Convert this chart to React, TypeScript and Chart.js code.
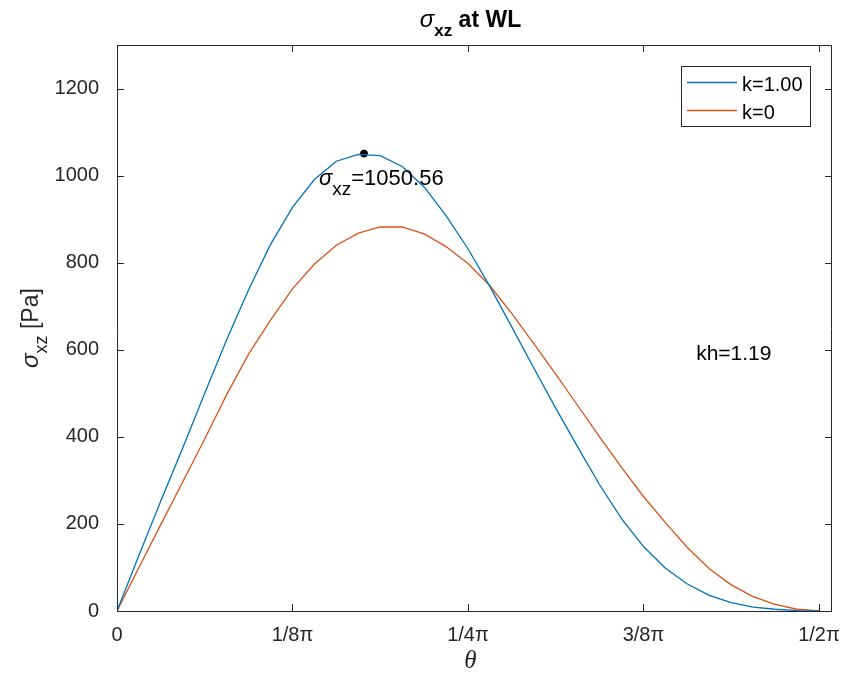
import React, { useEffect, useRef } from "react";
import { Chart, registerables } from "chart.js";

Chart.register(...registerables);

// ---- data ----
const theta = [
  0, 0.0491, 0.0982, 0.1473, 0.1963, 0.2454, 0.2945, 0.3436, 0.3927, 0.4418,
  0.4909, 0.54, 0.589, 0.6381, 0.6872, 0.7363, 0.7854, 0.8345, 0.8836, 0.9327,
  0.9817, 1.0308, 1.0799, 1.129, 1.1781, 1.2272, 1.2763, 1.3254, 1.3744, 1.4235,
  1.4726, 1.5217, 1.5708,
];
const sigmaK1 = [
  0, 128, 253, 375, 500, 623, 738, 842, 927, 991,
  1033, 1049, 1046, 1021, 974, 908, 832, 745, 652, 558,
  466, 377, 290, 212, 148, 98, 62, 36, 19, 9,
  4, 1, 0,
];
const sigmaK0 = [
  0, 100, 199, 297, 395, 497, 590, 668, 740, 797,
  840, 868, 882, 882, 866, 837, 798, 747, 683, 614,
  544, 472, 400, 330, 263, 203, 146, 97, 60, 33,
  15, 4, 0,
];
const seriesLabels = ["k=1.00", "k=0"];
const seriesColors = ["#0072BD", "#D95319"];
const peakTheta = 0.5527;
const peakValue = 1050.56;
const peakLabel = "=1050.56";
const khLabel = "kh=1.19";
const xTickValues = [0, 0.3927, 0.7854, 1.1781, 1.5708];
const xTickLabels = ["0", "1/8\u03C0", "1/4\u03C0", "3/8\u03C0", "1/2\u03C0"];
const yTickValues = [0, 200, 400, 600, 800, 1000, 1200];
const yTickLabels = ["0", "200", "400", "600", "800", "1000", "1200"];
const xMin = 0;
const xMax = 1.6;
const yMin = 0;
const yMax = 1300;

const SANS = '"Liberation Sans", Arial, Helvetica, sans-serif';
const AXIS = "#262626";

type Part = { t: string; font: string; dy?: number };

function richWidth(ctx: CanvasRenderingContext2D, parts: Part[]) {
  let w = 0;
  for (const p of parts) {
    ctx.font = p.font;
    w += ctx.measureText(p.t).width;
  }
  return w;
}

function drawRich(
  ctx: CanvasRenderingContext2D,
  parts: Part[],
  x: number,
  y: number,
  align: "left" | "center"
) {
  const w = richWidth(ctx, parts);
  let cx = align === "center" ? x - w / 2 : x;
  ctx.textAlign = "left";
  ctx.textBaseline = "alphabetic";
  for (const p of parts) {
    ctx.font = p.font;
    ctx.fillText(p.t, cx, y + (p.dy || 0));
    cx += ctx.measureText(p.t).width;
  }
}

const decorPlugin = {
  id: "decor",
  afterDraw(chart: any) {
    const { ctx, chartArea, scales } = chart;
    const xs = scales.x;
    const ys = scales.y;
    const { left, right, top, bottom } = chartArea;
    ctx.save();

    // frame + inward ticks on all sides
    ctx.strokeStyle = AXIS;
    ctx.lineWidth = 1;
    ctx.beginPath();
    ctx.rect(Math.round(left) + 0.5, Math.round(top) + 0.5, Math.round(right - left) - 1, Math.round(bottom - top));
    const tl = 7;
    for (const v of xTickValues) {
      const px = Math.round(xs.getPixelForValue(v)) + 0.5;
      ctx.moveTo(px, bottom);
      ctx.lineTo(px, bottom - tl);
      ctx.moveTo(px, top);
      ctx.lineTo(px, top + tl);
    }
    for (const v of yTickValues) {
      const py = Math.round(ys.getPixelForValue(v)) + 0.5;
      ctx.moveTo(left, py);
      ctx.lineTo(left + tl, py);
      ctx.moveTo(right, py);
      ctx.lineTo(right - tl, py);
    }
    ctx.stroke();

    ctx.fillStyle = "#000000";
    const cxPlot = (left + right) / 2;

    // title
    drawRich(
      ctx,
      [
        { t: "\u03C3", font: `italic 24px ${SANS}` },
        { t: "xz", font: `bold 17px ${SANS}`, dy: 9 },
        { t: " at WL", font: `bold 23px ${SANS}` },
      ],
      cxPlot - 4,
      27,
      "center"
    );

    // x axis title
    ctx.fillStyle = AXIS;
    ctx.font = `italic 25px "Liberation Serif", "DejaVu Serif", serif`;
    ctx.textAlign = "center";
    ctx.textBaseline = "alphabetic";
    ctx.fillText("\u03B8", cxPlot - 4, 668);

    // y axis title
    ctx.save();
    ctx.translate(38, (top + bottom) / 2);
    ctx.rotate(-Math.PI / 2);
    drawRich(
      ctx,
      [
        { t: "\u03C3", font: `italic 24px ${SANS}` },
        { t: "xz", font: `18px ${SANS}`, dy: 9 },
        { t: " [Pa]", font: `23px ${SANS}` },
      ],
      0,
      0,
      "center"
    );
    ctx.restore();

    // peak annotation
    ctx.fillStyle = "#000000";
    drawRich(
      ctx,
      [
        { t: "\u03C3", font: `italic 22px ${SANS}` },
        { t: "xz", font: `19px ${SANS}`, dy: 10 },
        { t: peakLabel, font: `22px ${SANS}` },
      ],
      xs.getPixelForValue(0.452),
      ys.getPixelForValue(1000) + 9,
      "left"
    );

    // kh annotation
    drawRich(
      ctx,
      [{ t: khLabel, font: `21px ${SANS}` }],
      xs.getPixelForValue(1.296),
      ys.getPixelForValue(600) + 10,
      "left"
    );

    // legend
    const lx = 681.5, ly = 66.5, lw = 129, lh = 60;
    ctx.fillStyle = "#ffffff";
    ctx.fillRect(lx, ly, lw, lh);
    ctx.strokeStyle = AXIS;
    ctx.lineWidth = 1;
    ctx.strokeRect(lx, ly, lw, lh);
    const rows = [82.5, 110.5];
    seriesLabels.forEach((lab, i) => {
      ctx.strokeStyle = seriesColors[i];
      ctx.lineWidth = 1.3;
      ctx.beginPath();
      ctx.moveTo(687, rows[i]);
      ctx.lineTo(737, rows[i]);
      ctx.stroke();
      ctx.fillStyle = "#000000";
      ctx.font = `20px ${SANS}`;
      ctx.textAlign = "left";
      ctx.textBaseline = "alphabetic";
      ctx.fillText(lab, 742, rows[i] + 8);
    });

    ctx.restore();
  },
};

export default function App() {
  const ref = useRef<HTMLCanvasElement | null>(null);

  useEffect(() => {
    if (!ref.current) return;
    const chart = new Chart(ref.current, {
      type: "line",
      data: {
        datasets: [
          {
            label: seriesLabels[0],
            data: theta.map((t, i) => ({ x: t, y: sigmaK1[i] })),
            borderColor: seriesColors[0],
            backgroundColor: seriesColors[0],
            borderWidth: 1.3,
            pointRadius: 0,
            tension: 0,
          },
          {
            label: seriesLabels[1],
            data: theta.map((t, i) => ({ x: t, y: sigmaK0[i] })),
            borderColor: seriesColors[1],
            backgroundColor: seriesColors[1],
            borderWidth: 1.3,
            pointRadius: 0,
            tension: 0,
          },
          {
            label: "peak",
            type: "scatter",
            data: [{ x: peakTheta, y: peakValue }],
            borderColor: "#000000",
            backgroundColor: "#000000",
            pointRadius: 3.5,
            showLine: false,
          } as any,
        ],
      },
      options: {
        animation: false,
        responsive: false,
        devicePixelRatio: 1,
        layout: { padding: { left: 0, top: 45, right: 29, bottom: 0 } },
        plugins: {
          legend: { display: false },
          title: { display: false },
          tooltip: { enabled: false },
        },
        scales: {
          x: {
            type: "linear",
            min: xMin,
            max: xMax,
            grid: { display: false },
            border: { display: false },
            afterBuildTicks: (s: any) => {
              s.ticks = xTickValues.map((v) => ({ value: v }));
            },
            afterFit: (s: any) => {
              s.height = 67;
            },
            ticks: {
              autoSkip: false,
              maxRotation: 0,
              minRotation: 0,
              padding: 4,
              color: AXIS,
              font: { family: SANS, size: 20 },
              callback: (_v: any, i: number) => xTickLabels[i],
            },
          },
          y: {
            type: "linear",
            min: yMin,
            max: yMax,
            grid: { display: false },
            border: { display: false },
            afterBuildTicks: (s: any) => {
              s.ticks = yTickValues.map((v) => ({ value: v }));
            },
            afterFit: (s: any) => {
              s.width = 117;
            },
            ticks: {
              padding: 10,
              color: AXIS,
              font: { family: SANS, size: 20 },
              callback: (_v: any, i: number) => yTickLabels[i],
            },
          },
        },
      },
      plugins: [decorPlugin],
    } as any);
    return () => chart.destroy();
  }, []);

  return (
    <div style={{ position: "absolute", left: 0, top: 0, width: 861, height: 678, background: "#fff" }}>
      <canvas ref={ref} width={861} height={678} style={{ width: 861, height: 678 }} />
    </div>
  );
}
